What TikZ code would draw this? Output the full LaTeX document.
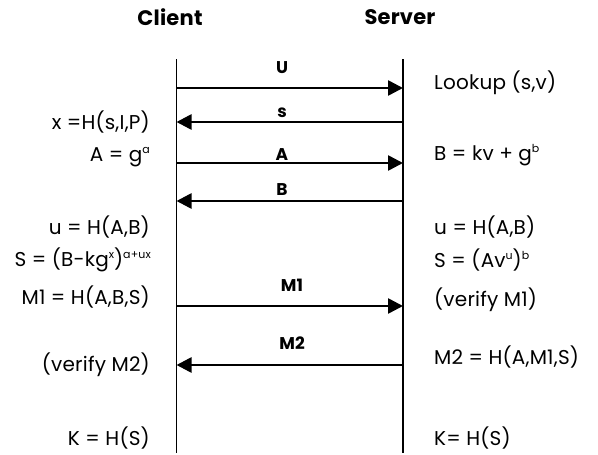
\documentclass[tikz,border=0pt]{standalone}
\usepackage{fontspec}
\setmainfont{Poppins}[LetterSpace=1]
\usetikzlibrary{arrows.meta}
\newcommand{\upx}[1]{\raisebox{0.75ex}{\fontsize{11}{12}\selectfont #1}}
\begin{document}
\begin{tikzpicture}[x=1pt,y=-1pt,
  lifeline/.style={line width=1.8pt},
  msg/.style={line width=2.6pt,-{Triangle[length=15pt,width=15pt]}},
  head/.style={font=\bfseries\fontsize{21}{24}\selectfont},
  lbl/.style={font=\bfseries\fontsize{17}{19}\selectfont, inner sep=0pt},
  lt/.style={anchor=east, inner sep=0pt, font=\fontsize{20}{23}\selectfont},
  rt/.style={anchor=west, inner sep=0pt, font=\fontsize{20}{23}\selectfont}]
\useasboundingbox (0,0) rectangle (598,455);
% headers
\node[head] (client) at (170,17) {Client};
\node[head] (server) at (400,17) {Server};
% lifelines
\coordinate (cT) at (176.5,59);
\coordinate (cB) at (176.5,453);
\coordinate (sT) at (403,59);
\coordinate (sB) at (403,453);
\draw[lifeline] (cT) -- (cB);
\draw[lifeline] (sT) -- (sB);
% message endpoints
\foreach \n/\y in {1/88,2/122,3/163,4/201,5/306,6/365}{
  \coordinate (c\n) at (176.5,\y);
  \coordinate (s\n) at (403,\y);
}
\draw[msg] (c1) -- (s1);
\draw[msg] (s2) -- (c2);
\draw[msg] (c3) -- (s3);
\draw[msg] (s4) -- (c4);
\draw[msg] (c5) -- (s5);
\draw[msg] (s6) -- (c6);
% message labels
\node[lbl] (lU) at (282,68) {U};
\node[lbl] (ls) at (282,113) {s};
\node[lbl] (lA) at (282,155) {A};
\node[lbl] (lB) at (282,190) {B};
\node[lbl] (lM1) at (292,285) {M1};
\node[lbl] (lM2) at (292,343) {M2};
% client texts
\node[lt] (cx) at (150,122) {x =H(s,I,P)};
\node[lt] (cA) at (150,157) {A = g\upx{a}};
\node[lt] (cu) at (150,227) {u = H(A,B)};
\node[lt] (cS) at (151,260) {S = (B-kg\upx{x})\upx{a+ux}};
\node[lt] (cM1) at (150,297) {M1 = H(A,B,S)};
\node[lt] (cv) at (150,365) {(verify M2)};
\node[lt] (cK) at (150,438) {K = H(S)};
% server texts
\node[rt] (sL) at (434,83) {Lookup (s,v)};
\node[rt] (sBv) at (434,155) {B = kv + g\upx{b}};
\node[rt] (su) at (434,227) {u = H(A,B)};
\node[rt] (sS) at (434,260) {S = (Av\upx{u})\upx{b}};
\node[rt] (sv) at (434,300) {(verify M1)};
\node[rt] (sM2) at (434,357) {M2 = H(A,M1,S)};
\node[rt] (sK) at (434,438) {K= H(S)};
\end{tikzpicture}
\end{document}
